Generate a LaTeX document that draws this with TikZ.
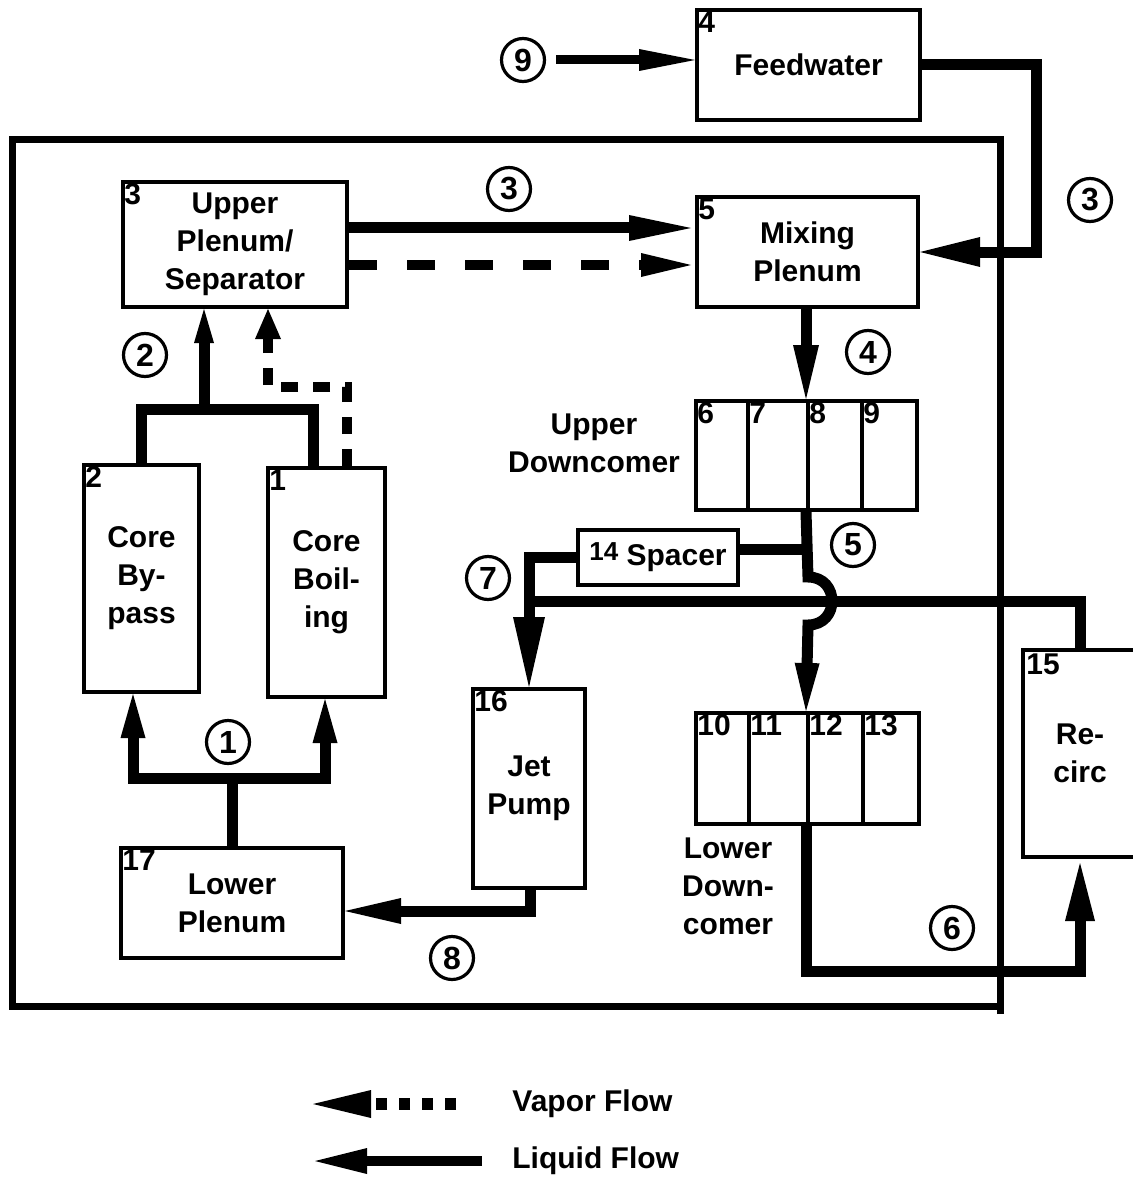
\documentclass[tikz,border=0pt]{standalone}
\usepackage{fontspec}
\setmainfont{Liberation Sans}
\usetikzlibrary{arrows.meta}
\newcommand\mytxt{\fontsize{15}{19}\selectfont\bfseries}
\newcommand\myidx{\fontsize{15}{15}\selectfont\bfseries}
\newcommand\mycnum{\fontsize{16}{16}\selectfont\bfseries}
\begin{document}
\begin{tikzpicture}[x=0.5pt,y=-0.5pt,line join=miter,
  bx/.style={draw,line width=2pt,inner sep=0pt,align=center,font=\mytxt},
  idx/.style={anchor=north west,inner sep=1.5pt,font=\myidx},
  lbl/.style={align=center,font=\mytxt,inner sep=0pt},
  cnum/.style={circle,draw,line width=1.6pt,minimum size=21.5pt,inner sep=0pt,font=\mycnum},
  liq/.style={line width=5.5pt},
  vap/.style={line width=5pt},
  frameline/.style={line width=3.5pt}]
\useasboundingbox (0,0) rectangle (1133,1182);
\fill[white] (0,0) rectangle (1133,1182);

% outer frame
\draw[frameline] (1000,1014) -- (1000,140) -- (12,140) -- (12,1006) -- (1000,1006);

% boxes
\node[bx,minimum width=111.5pt,minimum height=55pt] (fw) at (808.5,65) {Feedwater};
\node[bx,minimum width=112pt,minimum height=62.5pt] (up) at (235,244.5) {Upper\\Plenum/\\Separator};
\node[bx,minimum width=110.5pt,minimum height=55pt] (mx) at (807.5,252) {Mixing\\Plenum};
\node[bx,minimum width=57.5pt,minimum height=113.5pt] (bp) at (141.5,578.5) {Core\\By-\\pass};
\node[bx,minimum width=58.5pt,minimum height=114.5pt] (cb) at (326.5,582.5) {Core\\Boil-\\ing};
\node[bx,minimum width=111pt,minimum height=55pt] (lp) at (232,903) {Lower\\Plenum};
\node[bx,minimum width=56pt,minimum height=99.5pt] (jp) at (529,788.5) {Jet\\Pump};
\node[bx,minimum width=80pt,minimum height=27.5pt] (sp) at (658,557.5) {\raisebox{2.5pt}{\fontsize{13}{13}\selectfont 14} Spacer};
\node[bx,draw=none,minimum width=55pt,minimum height=101.5pt] (rc) at (1080,753.5) {Re-\\circ};
\draw[line width=2pt] (rc.north east) -- (rc.north west) -- (rc.south west) -- (rc.south east);

% upper downcomer cells
\node[bx,minimum width=26pt,minimum height=54.5pt] (c6) at (722,455.5) {};
\node[bx,minimum width=30pt,minimum height=54.5pt] (c7) at (778,455.5) {};
\node[bx,minimum width=27pt,minimum height=54.5pt] (c8) at (835,455.5) {};
\node[bx,minimum width=27.5pt,minimum height=54.5pt] (c9) at (889.5,455.5) {};
% lower downcomer cells
\node[bx,minimum width=26.5pt,minimum height=55.5pt] (c10) at (722.5,768.5) {};
\node[bx,minimum width=29.5pt,minimum height=55.5pt] (c11) at (778.5,768.5) {};
\node[bx,minimum width=27.5pt,minimum height=55.5pt] (c12) at (835.5,768.5) {};
\node[bx,minimum width=28pt,minimum height=55.5pt] (c13) at (891,768.5) {};

% box numbers
\node[idx] (i4) at (fw.north west) {4};
\node[idx] (i3) at (up.north west) {3};
\node[idx] (i5) at (mx.north west) {5};
\node[idx] (i2) at (bp.north west) {2};
\node[idx] (i1) at (cb.north west) {1};
\node[idx] (i17) at (lp.north west) {17};
\node[idx] (i16) at (jp.north west) {16};
\node[idx] (i15) at (rc.north west) {15};
\node[idx] (i6) at (c6.north west) {6};
\node[idx] (i7) at (c7.north west) {7};
\node[idx] (i8) at (c8.north west) {8};
\node[idx] (i9) at (c9.north west) {9};
\node[idx] (i10) at (c10.north west) {10};
\node[idx] (i11) at (c11.north west) {11};
\node[idx] (i12) at (c12.north west) {12};
\node[idx] (i13) at (c13.north west) {13};

% free labels
\node[lbl] (tud) at (594,443) {Upper\\Downcomer};
\node[lbl] (tld) at (728,886) {Lower\\Down-\\comer};

% circled numbers
\node[cnum] (n9) at (523,60) {9};
\node[cnum] (n3a) at (509,189) {3};
\node[cnum] (n3b) at (1090,200) {3};
\node[cnum] (n2) at (145,355) {2};
\node[cnum] (n4) at (868,352) {4};
\node[cnum] (n5) at (853,545) {5};
\node[cnum] (n7) at (488,578) {7};
\node[cnum] (n1) at (228,742) {1};
\node[cnum] (n8) at (452,958) {8};
\node[cnum] (n6) at (952,928) {6};

% coordinates
\coordinate (fwc) at (1036,65);
\coordinate (s3) at (347,228);
\coordinate (d3) at (347,265);
\coordinate (jm) at (204,409);
\coordinate (jrt) at (313,409);
\coordinate (va) at (347,387);
\coordinate (vb) at (268,387);
\coordinate (ka) at (133,778);
\coordinate (kb) at (325,778);
\coordinate (jq) at (530,911);
\coordinate (sr) at (808,549);
\coordinate (ht) at (808,577);
\coordinate (hb) at (808,625);
\coordinate (jx) at (529,601);
\coordinate (jz) at (1080,971);

% flows
\draw[line width=4.5pt,-{Triangle[length=28pt,width=11pt,line width=0pt]}] ([xshift=5pt]n9.east) -- (n9 -| fw.west);
\draw[liq,-{Triangle[length=30pt,width=15pt,line width=0pt]}] (fw.east) -- (fwc) |- (mx.east);
\draw[liq,shorten >=2pt,-{Triangle[length=31pt,width=13pt,line width=0pt]}] (up.east |- s3) -- (mx.west |- s3);
\draw[vap,dash pattern=on 14pt off 15pt,shorten >=2pt,-{Triangle[length=25pt,width=12pt,line width=0pt]}] (up.east |- d3) -- (mx.west |- d3);
\draw[liq,-{Triangle[length=27pt,width=13pt,line width=0pt]}] (mx.south -| c8.west) -- (c8.north west);

\draw[liq] (bp.north) |- (jrt) -- (jrt |- cb.north);
\draw[liq,-{Triangle[length=17pt,width=10pt,line width=0pt]}] (jm) -- (jm |- up.south);
\draw[vap,dash pattern=on 8.5pt off 7.5pt,-{Triangle[length=15pt,width=13pt,line width=0pt]}] (va |- cb.north) -- (va) -- (vb) -- (vb |- up.south);

\draw[liq] (lp.north) -- (lp.north |- ka);
\draw[liq,-{Triangle[length=22pt,width=12.5pt,line width=0pt]}] (lp.north |- ka) -- (ka) -- (ka |- bp.south);
\draw[liq,-{Triangle[length=22pt,width=12.5pt,line width=0pt]}] (lp.north |- kb) -- (kb) -- (kb |- cb.south);

\draw[liq,-{Triangle[length=28pt,width=13pt,line width=0pt]}] (jp.south -| jq) -- (jq) -- (jq -| lp.east);

\draw[liq] (sp.east |- sr) -- (sr);
\draw[liq,-{Triangle[length=24pt,width=12.5pt,line width=0pt]}] (c8.south west) -- (ht) .. controls +(32,0) and +(32,0) .. (hb) -- (c12.north west);
\draw[liq,-{Triangle[length=35pt,width=16pt,line width=0pt]}] (sp.west) -| (jp.north);
\draw[liq] (rc.north) |- (jx);
\draw[liq,shorten >=3pt,-{Triangle[length=29pt,width=15pt,line width=0pt]}] (c12.south west) |- (jz) -- (rc.south);

% legend
\coordinate (lv1) at (456,1104);
\coordinate (lv2) at (313,1104);
\coordinate (ll1) at (482,1161);
\coordinate (ll2) at (315,1161);
\draw[line width=6pt,dash pattern=on 5.5pt off 6pt,-{Triangle[length=29pt,width=14pt,line width=0pt]}] (lv1) -- (lv2);
\draw[line width=5pt,-{Triangle[length=26pt,width=13pt,line width=0pt]}] (ll1) -- (ll2);
\node[anchor=west,font=\mytxt,inner sep=0pt] (tv) at (512,1104) {Vapor Flow};
\node[anchor=west,font=\mytxt,inner sep=0pt] (tl) at (512,1161) {Liquid Flow};
\end{tikzpicture}
\end{document}
